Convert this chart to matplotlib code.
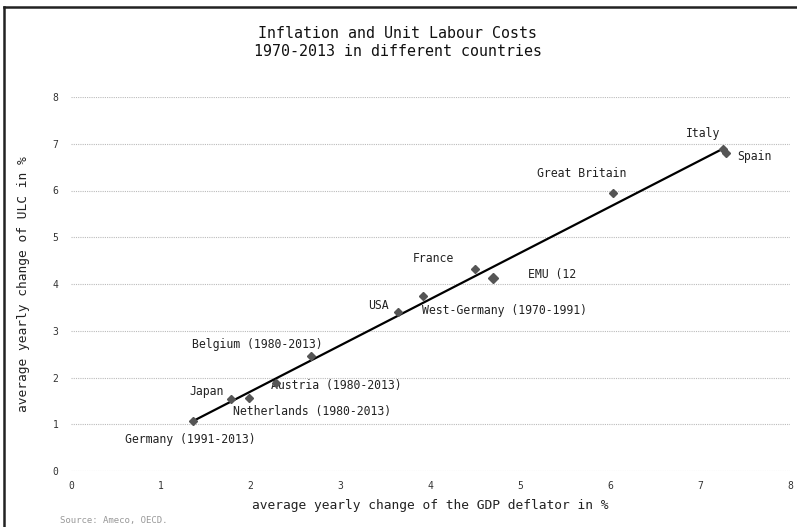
import matplotlib.pyplot as plt
from matplotlib.lines import Line2D

# data
countries = ["Germany (1991-2013)", "Japan", "Netherlands (1980-2013)", "Austria (1980-2013)",
             "Belgium (1980-2013)", "USA", "West-Germany (1970-1991)", "France", "EMU (12",
             "Great Britain", "Italy", "Spain"]
gdp_deflator = [1.36, 1.78, 1.98, 2.28, 2.67, 3.64, 3.92, 4.50, 4.69, 6.03, 7.26, 7.29]
ulc = [1.08, 1.54, 1.56, 1.88, 2.46, 3.40, 3.74, 4.32, 4.12, 5.94, 6.88, 6.80]
label_x = [0.60, 1.32, 1.80, 2.23, 1.35, 3.31, 3.91, 3.80, 5.08, 5.18, 6.84, 7.41]
label_y = [0.68, 1.69, 1.28, 1.82, 2.71, 3.53, 3.44, 4.55, 4.20, 6.37, 7.22, 6.73]
trend_x = [1.36, 7.26]
trend_y = [1.07, 6.90]
ticks = list(range(0, 9))

plt.rcParams['font.family'] = 'DejaVu Sans Mono'
fig = plt.figure(figsize=(7.97, 5.27), dpi=100)
ax = fig.add_axes([71 / 797, 1 - 471 / 527, 719 / 797, 374 / 527])

ax.plot(trend_x, trend_y, color='black', lw=1.6, zorder=3)
for i, (x, y) in enumerate(zip(gdp_deflator, ulc)):
    ms = 5 if countries[i] == "EMU (12" else 3.6
    ax.plot(x, y, marker='D', ms=ms, color='#555555', ls='none', zorder=4)
for name, lx, ly in zip(countries, label_x, label_y):
    ax.text(lx, ly, name, fontsize=8.3, color='#222222', va='center', ha='left')

ax.set_xlim(0, 8)
ax.set_ylim(0, 8)
ax.set_xticks(ticks)
ax.set_yticks(ticks)
ax.tick_params(length=0, labelsize=7, colors='#333333')
ax.tick_params(axis='y', pad=9)
ax.tick_params(axis='x', pad=7)
for s in ax.spines.values():
    s.set_visible(False)
ax.yaxis.grid(True, linestyle=(0, (1, 1)), color='#bbbbbb', lw=0.8)
ax.set_axisbelow(True)

ax.set_xlabel("average yearly change of the GDP deflator in %", fontsize=9.3, color='#222222', labelpad=6)
ax.set_ylabel("average yearly change of ULC in %", fontsize=9.3, color='#222222', labelpad=16)

fig.text(398 / 797, 1 - 43 / 527, "Inflation and Unit Labour Costs\n1970-2013 in different countries",
         ha='center', va='center', fontsize=10.8, color='#111111', linespacing=1.25)
fig.text(60 / 797, 1 - 521 / 527, "Source: Ameco, OECD.", fontsize=6.5, color='#999999', va='center')

# frame around the picture
fig.add_artist(Line2D([4 / 797, 4 / 797], [0, 1 - 7 / 527], color='#222222', lw=1.8, transform=fig.transFigure))
fig.add_artist(Line2D([4 / 797, 1], [1 - 7 / 527, 1 - 7 / 527], color='#222222', lw=1.8, transform=fig.transFigure))

plt.savefig("out.png", dpi=100)
plt.close()
